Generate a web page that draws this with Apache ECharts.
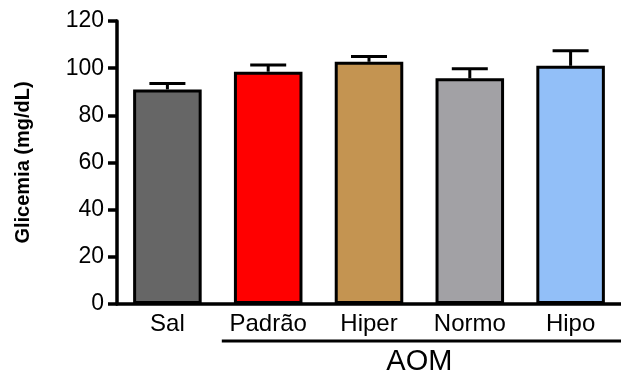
<!DOCTYPE html>
<html><head><meta charset="utf-8">
<script src="https://cdn.jsdelivr.net/npm/echarts@6/dist/echarts.min.js"></script>
<style>html,body{margin:0;padding:0;background:#fff}#c{width:621px;height:372px}</style>
</head><body><div id="c"></div>
<script>
const categories = ['Sal', 'Padrão', 'Hiper', 'Normo', 'Hipo'];
const means = [91, 98.5, 102.7, 95.7, 101];
const sems = [2.5, 2.8, 2.2, 4.1, 6.4];
const colors = ['#666666', '#ff0000', '#c49451', '#a2a1a5', '#92bff8'];
const yTicks = [0, 20, 40, 60, 80, 100, 120];
const groupLabel = 'AOM';
const groupRange = [1, 4];
const yName = 'Glicemia (mg/dL)';
const FONT = "'Liberation Sans', Arial, sans-serif";

const chart = echarts.init(document.getElementById('c'), null, {renderer: 'canvas'});
chart.setOption({
  animation: false,
  backgroundColor: '#fff',
  grid: {left: 117, right: -9, top: 21, bottom: 68, containLabel: false},
  xAxis: {
    type: 'category', data: categories,
    axisLine: {lineStyle: {color: '#000', width: 3.5}},
    axisTick: {alignWithLabel: true, length: 7, lineStyle: {color: '#000', width: 3}},
    axisLabel: {color: '#000', fontSize: 24, fontFamily: FONT, margin: 8}
  },
  yAxis: {
    type: 'value', min: yTicks[0], max: yTicks[yTicks.length - 1], interval: 20,
    name: yName, nameLocation: 'middle', nameGap: 84,
    nameTextStyle: {color: '#000', fontSize: 20, fontWeight: 'bold', fontFamily: FONT},
    axisLine: {show: true, lineStyle: {color: '#000', width: 3.5}},
    axisTick: {show: true, length: 9, lineStyle: {color: '#000', width: 3.5}},
    axisLabel: {color: '#000', fontSize: 23, fontFamily: FONT, margin: 13},
    splitLine: {show: false}
  },
  series: [{
    type: 'bar', barWidth: '68%',
    data: means.map((v, i) => ({value: v, itemStyle: {color: colors[i]}})),
    itemStyle: {borderColor: '#000', borderWidth: 3},
    z: 2
  }, {
    type: 'custom', z: 3,
    data: means.map((v, i) => [i, v, v + sems[i]]),
    renderItem: function (params, api) {
      const x = api.value(0);
      const p0 = api.coord([x, api.value(1)]);
      const p1 = api.coord([x, api.value(2)]);
      const hw = 18;
      return {type: 'group', children: [
        {type: 'line', shape: {x1: p0[0], y1: p0[1], x2: p1[0], y2: p1[1]}, style: {stroke: '#000', lineWidth: 3}},
        {type: 'line', shape: {x1: p1[0] - hw, y1: p1[1], x2: p1[0] + hw, y2: p1[1]}, style: {stroke: '#000', lineWidth: 3}}
      ]};
    }
  }]
});

const a = chart.convertToPixel({xAxisIndex: 0}, groupRange[0]);
const b = chart.convertToPixel({xAxisIndex: 0}, groupRange[1]);
const step = chart.convertToPixel({xAxisIndex: 0}, 1) - chart.convertToPixel({xAxisIndex: 0}, 0);
const y0 = chart.convertToPixel({yAxisIndex: 0}, 0);
chart.setOption({
  graphic: [
    {type: 'line', shape: {x1: a - step / 2 + 4, y1: y0 + 37, x2: b + step / 2, y2: y0 + 37}, style: {stroke: '#000', lineWidth: 3}},
    {type: 'text', x: (a + b) / 2, y: y0 + 58, style: {text: groupLabel, fill: '#000', fontSize: 29, fontFamily: FONT, align: 'center', verticalAlign: 'middle'}}
  ]
});
</script></body></html>
